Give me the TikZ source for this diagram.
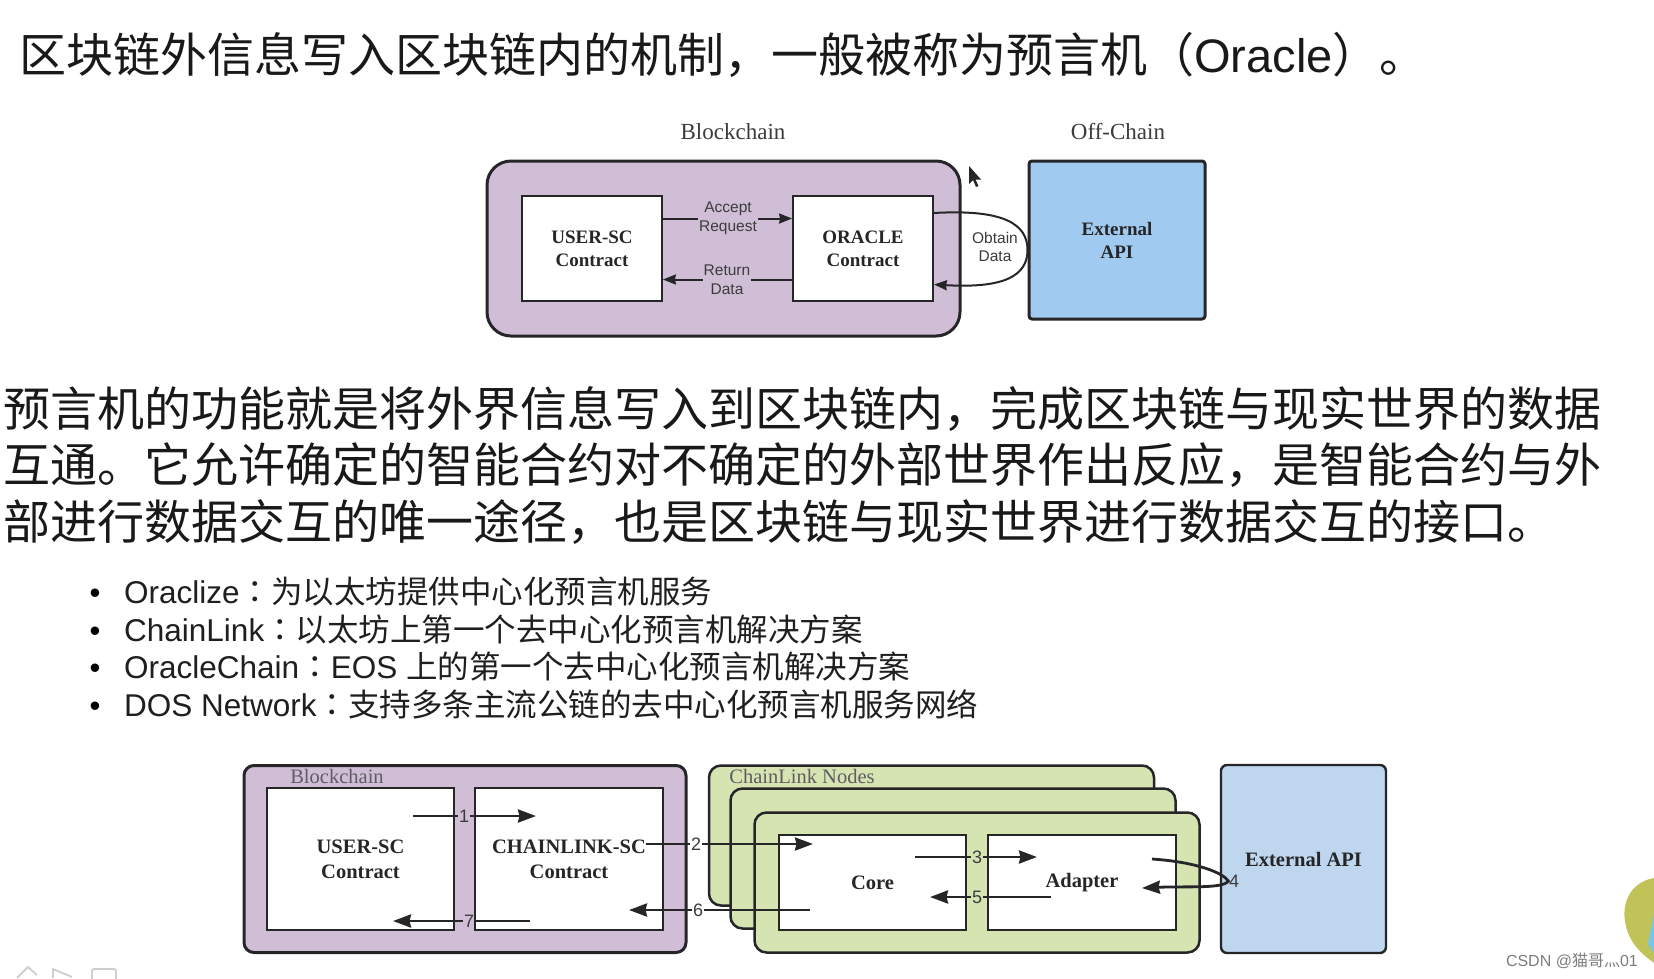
\documentclass[tikz,border=0pt]{standalone}
\usepackage{fontspec}
\setmainfont{Liberation Serif}
\newfontfamily\zhfont{Noto Sans CJK SC}
\newfontfamily\zhtc{Noto Sans CJK TC}
\newfontfamily\enfont{Liberation Sans}
\usetikzlibrary{arrows.meta,positioning,calc}

\newcommand{\fsz}[2]{\fontsize{#1}{#2}\selectfont}
\newcommand{\colonmark}{{\zhtc ：}}

\definecolor{chainpurple}{RGB}{208,190,214}
\definecolor{nodegreen}{RGB}{214,228,178}
\definecolor{apiblue}{RGB}{160,202,240}
\definecolor{apilight}{RGB}{190,214,238}
\definecolor{linedark}{RGB}{38,38,40}
\definecolor{textgray}{RGB}{60,60,62}
\definecolor{softgray}{RGB}{95,92,100}
\definecolor{markgray}{RGB}{125,125,125}
\definecolor{icongray}{RGB}{205,205,210}
\definecolor{leafgreen}{RGB}{192,196,88}
\definecolor{leafblue}{RGB}{120,196,236}

\begin{document}
\begin{tikzpicture}[x=1pt, y=-1pt,
    heading/.style={anchor=base west, inner sep=0pt, text=black!90, font=\zhfont\fsz{47}{47}},
    body/.style={anchor=base west, inner sep=0pt, text=black!90, font=\zhfont\fsz{47}{47}},
    item/.style={anchor=base west, inner sep=0pt, text=black!88, font=\zhfont\fsz{31.5}{31.5}},
    dot/.style={anchor=base, inner sep=0pt, font=\enfont\fsz{31}{31}},
    chain/.style={draw=linedark, line width=3pt, fill=chainpurple},
    contract/.style={draw=linedark, line width=1.8pt, fill=white, align=center, text=linedark, font=\fsz{19}{23}\bfseries, minimum width=140pt, minimum height=105pt},
    api/.style={draw=linedark, line width=3pt, fill=apiblue, rounded corners=3pt, align=center, text=linedark, font=\fsz{19}{23}\bfseries, minimum width=176pt, minimum height=158pt},
    side/.style={font=\fsz{23}{23}, text=textgray},
    note/.style={font=\enfont\fsz{15.5}{18.5}, text=textgray, align=center, inner sep=1pt},
    link/.style={draw=linedark, line width=2pt},
    flow/.style={link, -{Stealth[length=13pt, width=10pt, inset=1pt]}},
    card/.style={draw=linedark, line width=2.5pt, fill=nodegreen, rounded corners=12pt, minimum width=445pt, minimum height=140pt},
    part/.style={draw=linedark, line width=2.4pt, fill=white, align=center, text=linedark, font=\fsz{20.5}{25}\bfseries},
    tag/.style={font=\fsz{20.5}{20.5}, text=softgray, inner sep=0pt},
    num/.style={font=\enfont\fsz{18}{18}, text=textgray, inner sep=0.5pt},
    wire/.style={draw=linedark, line width=2.8pt},
    step arrow/.style={wire, -{Stealth[length=18pt, width=13pt, inset=1.5pt]}},
    icon/.style={draw=icongray, line width=1.8pt, line join=round},
]

\fill[white] (0,0) rectangle (1654,978);
\useasboundingbox (0,0) rectangle (1654,978);

% Title line
\node[heading] (title) at (19,72.5) {区块链外信息写入区块链内的机制，一般被称为预言机（{\enfont Oracle}）。};

% Oracle overview
\node[side] (chainlbl) at (733,132) {Blockchain};
\node[side] (offlbl) at (1118,132) {Off-Chain};
\node[chain, rounded corners=24pt, minimum width=473pt, minimum height=175pt] (chain) at (723.5,248.5) {};
\node[contract] (user) at (592,248.5) {USER-SC\\Contract};
\node[contract] (oracle) at (863,248.5) {ORACLE\\Contract};
\node[api] (api) at (1117,240) {External\\API};

\node[note] (accept) at (728,218.5) {Accept\\Request};
\draw[link] (user.east |- accept) -- (accept.west);
\draw[flow] (accept.east) -- (oracle.west |- accept);

\node[note] (back) at (727,279.5) {Return\\Data};
\draw[link] (oracle.west |- back) -- (back.east);
\draw[flow] (back.west) -- (user.east |- back);

\node[note] (obtain) at (995,247) {Obtain\\Data};
\draw[flow] ([yshift=35.5pt]oracle.east) .. controls +(70,-4) and +(0,-26) .. ([yshift=-10pt]api.west)
    .. controls +(0,26) and +(70,4) .. ([yshift=-36pt]oracle.east);

% mouse pointer
\fill[black!85] (969,166) -- (969,184) -- (973,180) -- (976,187) -- (978.5,186) -- (975.5,179.5) -- (981,179.5) -- cycle;

% Explanation
\node[body] (para1) at (3,426) {预言机的功能就是将外界信息写入到区块链内，完成区块链与现实世界的数据};
\node[body] (para2) at (3,482) {互通。它允许确定的智能合约对不确定的外部世界作出反应，是智能合约与外};
\node[body] (para3) at (3,539) {部进行数据交互的唯一途径，也是区块链与现实世界进行数据交互的接口。};

% Oracle projects
\node[dot] (b1) at (95,603) {•};
\node[item] (i1) at (124,603) {{\enfont Oraclize}\colonmark 为以太坊提供中心化预言机服务};
\node[dot] (b2) at (95,641) {•};
\node[item] (i2) at (124,641) {{\enfont ChainLink}\colonmark 以太坊上第一个去中心化预言机解决方案};
\node[dot] (b3) at (95,678) {•};
\node[item] (i3) at (124,678) {{\enfont OracleChain}\colonmark{\enfont EOS }上的第一个去中心化预言机解决方案};
\node[dot] (b4) at (95,716) {•};
\node[item] (i4) at (124,716) {{\enfont DOS Network}\colonmark 支持多条主流公链的去中心化预言机服务网络};

% ChainLink flow
\node[chain, rounded corners=10pt, minimum width=442pt, minimum height=187pt] (chain2) at (465,859) {};
\node[tag] (chain2lbl) at (337,776) {Blockchain};
\node[part, minimum width=187pt, minimum height=142pt] (user2) at (360.5,859) {USER-SC\\Contract};
\node[part, minimum width=188pt, minimum height=142pt] (linksc) at (569,859) {CHAINLINK-SC\\Contract};

\node[card] (card1) at (931.5,835.5) {};
\node[card] (card2) at (953,858.5) {};
\node[card] (card3) at (977,882.5) {};
\node[tag] (cardlbl) at (802,776) {ChainLink Nodes};
\node[part, minimum width=187pt, minimum height=95pt] (core) at (872.5,882.5) {Core};
\node[part, minimum width=188pt, minimum height=95pt] (adapter) at (1082,882.5) {Adapter};
\node[part, fill=apilight, rounded corners=6pt, minimum width=165pt, minimum height=188pt] (api2) at (1303.5,859) {External API};

\coordinate (s1) at (413,816);   \coordinate (e1) at (536,816);
\coordinate (s2) at (646,844);   \coordinate (e2) at (813,844);
\coordinate (s3) at (915,857);   \coordinate (e3) at (1037,857);
\coordinate (s4) at (1152,859);  \coordinate (e4) at (1142,888);
\coordinate (s5) at (1051,897);  \coordinate (e5) at (930,897);
\coordinate (s6) at (810,910);   \coordinate (e6) at (629,910);
\coordinate (s7) at (530,921);   \coordinate (e7) at (393,921);

\node[num] (n1) at (464,816) {1};
\node[num] (n2) at (696,844) {2};
\node[num] (n3) at (977,857) {3};
\node[num] (n4) at (1234,881) {4};
\node[num] (n5) at (977,897) {5};
\node[num] (n6) at (698,910) {6};
\node[num] (n7) at (469,921) {7};

\draw[wire] (s1) -- (n1.west);  \draw[step arrow] (n1.east) -- (e1);
\draw[wire] (s2) -- (n2.west);  \draw[step arrow] (n2.east) -- (e2);
\draw[wire] (s3) -- (n3.west);  \draw[step arrow] (n3.east) -- (e3);
\draw[step arrow] (s4) .. controls +(45,3) and +(-5,-8) .. (n4.west) .. controls +(-5,8) and +(45,-2) .. (e4);
\draw[wire] (s5) -- (n5.east);  \draw[step arrow] (n5.west) -- (e5);
\draw[wire] (s6) -- (n6.east);  \draw[step arrow] (n6.west) -- (e6);
\draw[wire] (s7) -- (n7.east);  \draw[step arrow] (n7.west) -- (e7);

% slide toolbar and corner decoration
\draw[icon] (17,978) -- (28,967) -- (37,975);
\draw[icon] (53,978) -- (53,969) -- (72,977);
\draw[icon, rounded corners=2pt] (92,982) -- (92,969) -- (116,969) -- (116,982);
\fill[leafgreen] (1654,878) .. controls (1630,882) and (1619,905) .. (1627,930)
    .. controls (1633,948) and (1645,956) .. (1654,963) -- cycle;
\fill[leafblue] (1654,914) -- (1648,944) -- (1654,953) -- cycle;
\node[anchor=base east, inner sep=0pt, text=markgray, font=\fsz{16}{16}] (mark) at (1638,966) {\enfont CSDN @\zhfont 猫哥灬\enfont 01};

\end{tikzpicture}
\end{document}
